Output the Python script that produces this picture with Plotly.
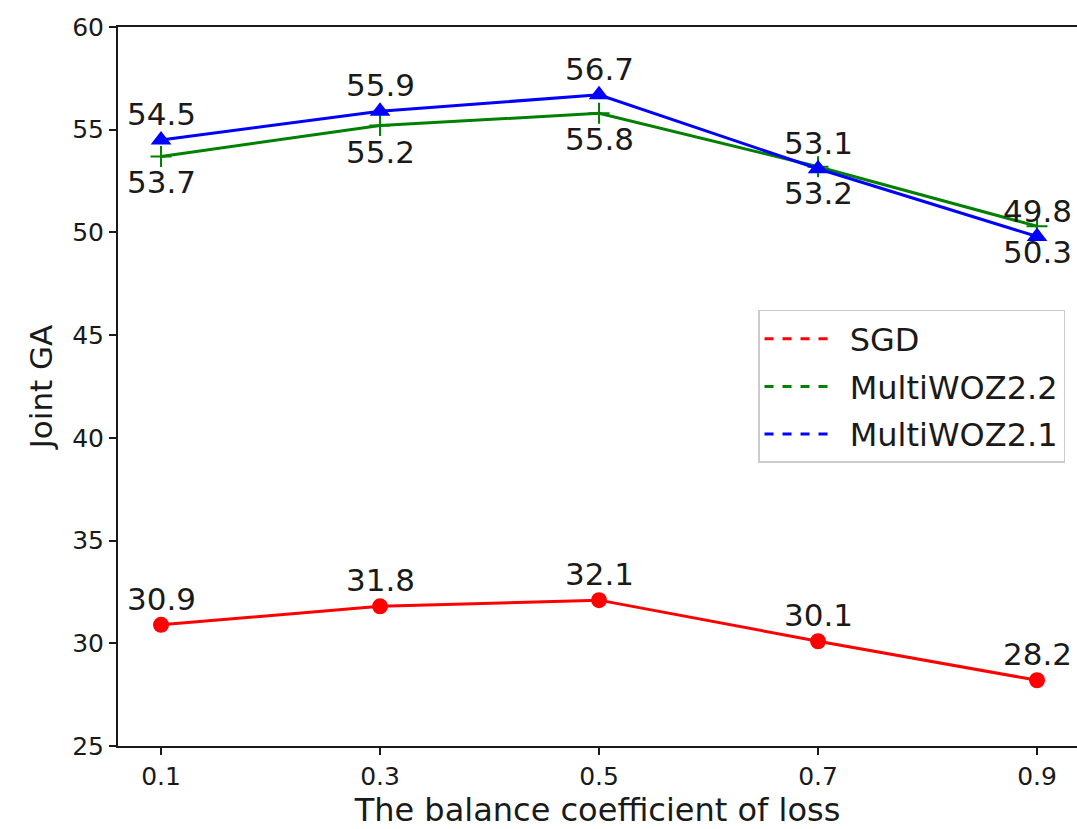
import plotly.graph_objects as go

x_vals = [0.1, 0.3, 0.5, 0.7, 0.9]
x_ticks = ["0.1", "0.3", "0.5", "0.7", "0.9"]
sgd = [30.9, 31.8, 32.1, 30.1, 28.2]
woz22 = [53.7, 55.2, 55.8, 53.2, 50.3]
woz21 = [54.5, 55.9, 56.7, 53.1, 49.8]
y_ticks = [25, 30, 35, 40, 45, 50, 55, 60]

FONT = "DejaVu Sans"
TXT = "#1a1a1a"
fig = go.Figure()

series = [
    ("SGD", sgd, "#ff0000", dict(symbol="circle", size=16, color="#ff0000"), 1),
    ("MultiWOZ2.2", woz22, "#008000", dict(symbol="cross-thin", size=15, color="#008000",
                                            line=dict(color="#008000", width=2)), -1),
    ("MultiWOZ2.1", woz21, "#0000ff", dict(symbol="triangle-up", size=18, color="#0000ff"), 1),
]

for name, vals, color, marker, side in series:
    fig.add_trace(go.Scatter(x=x_vals, y=vals, mode="lines+markers", name=name,
                             line=dict(color=color, width=3), marker=marker,
                             showlegend=False, cliponaxis=False))

for i, (name, vals, color, marker, side) in enumerate(series):
    fig.add_trace(go.Scatter(x=[None], y=[None], mode="lines", name="\u00a0" + name,
                             legendgroup=f"g{i}",
                             line=dict(color=color, width=3, dash="dash")))

for name, vals, color, marker, side in series:
    for xv, yv in zip(x_vals, vals):
        fig.add_annotation(x=xv, y=yv, text=f"{yv:.1f}", showarrow=False,
                           yshift=26 * side, font=dict(family=FONT, size=31, color=TXT))

fig.update_layout(
    width=1077, height=829,
    margin=dict(l=118, r=0, t=27, b=83),
    paper_bgcolor="white", plot_bgcolor="white",
    font=dict(family=FONT, color=TXT),
    legend=dict(x=0.9875, y=0.6064, xanchor="right", yanchor="top",
                font=dict(family=FONT, size=32, color=TXT),
                bordercolor="#cccccc", borderwidth=1.5, bgcolor="white",
                itemwidth=70, tracegroupgap=3),
)

fig.update_xaxes(range=[0.0607, 0.9365], tickvals=x_vals, ticktext=x_ticks,
                 showline=True, linecolor=TXT, linewidth=2, mirror=True,
                 ticks="outside", ticklen=7, tickwidth=1.5, tickcolor=TXT,
                 tickfont=dict(family=FONT, size=25, color=TXT),
                 showgrid=False, zeroline=False,
                 title=dict(text="The balance coefficient of loss", standoff=6,
                            font=dict(family=FONT, size=32, color=TXT)))
fig.update_yaxes(range=[25, 60], tickvals=y_ticks,
                 showline=True, linecolor=TXT, linewidth=2, mirror=False,
                 ticks="outside", ticklen=7, tickwidth=1.5, tickcolor=TXT,
                 tickfont=dict(family=FONT, size=25, color=TXT),
                 showgrid=False, zeroline=False,
                 title=dict(text="Joint GA", standoff=10,
                            font=dict(family=FONT, size=31, color=TXT)))

fig.write_html("out.html")
